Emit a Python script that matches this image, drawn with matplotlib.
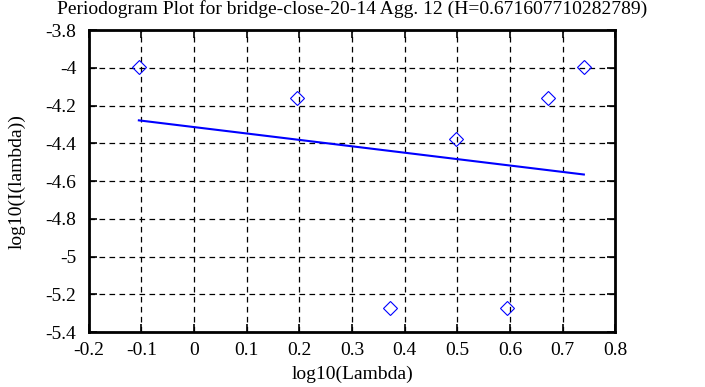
import matplotlib.pyplot as plt
from matplotlib.ticker import FuncFormatter, MultipleLocator

# periodogram points (log10 lambda, log10 I(lambda))
log_lambda = [-0.105, 0.196, 0.372, 0.497, 0.594, 0.672, 0.740]
log_I = [-3.997, -4.158, -5.270, -4.377, -5.270, -4.159, -3.995]

# fitted line endpoints
fit_x = [-0.105, 0.740]
fit_y = [-4.278, -4.565]

title = "Periodogram Plot for bridge-close-20-14 Agg. 12 (H=0.671607710282789)"

plt.rcParams['font.family'] = ['Liberation Serif', 'DejaVu Serif']

fig = plt.figure(figsize=(7.05, 3.87), dpi=100)
ax = fig.add_axes([0.126, 0.142, 0.747, 0.780])

ax.plot(log_lambda, log_I, linestyle='none', marker='D', markersize=7.5,
        markerfacecolor='none', markeredgecolor='#0000ff', markeredgewidth=0.8)
ax.plot(fit_x, fit_y, color='#0000ff', linewidth=1.5)

ax.set_xlim(-0.2, 0.8)
ax.set_ylim(-5.4, -3.8)
ax.xaxis.set_major_locator(MultipleLocator(0.1))
ax.yaxis.set_major_locator(MultipleLocator(0.2))
fmt = FuncFormatter(lambda v, p: '%g' % round(v, 6))
ax.xaxis.set_major_formatter(fmt)
ax.yaxis.set_major_formatter(fmt)

ax.grid(True, color='black', linestyle=(0, (4.5, 3.5)), linewidth=0.9)
ax.tick_params(direction='in', length=6, width=1.2, top=True, right=True,
               labelsize=14, colors='black')
ax.tick_params(axis='y', pad=9)
ax.tick_params(axis='x', pad=7)
for s in ax.spines.values():
    s.set_linewidth(2)

# title centred on the whole canvas, above the -3.8 label
fig.text(0.5, 1 - 14 / 387, title, fontsize=14, ha='center', va='baseline')
ax.set_xlabel('log10(Lambda)', fontsize=14, labelpad=5)
ax.set_ylabel('log10(I(lambda))', fontsize=14, labelpad=14)

fig.savefig('out.png', dpi=100)
